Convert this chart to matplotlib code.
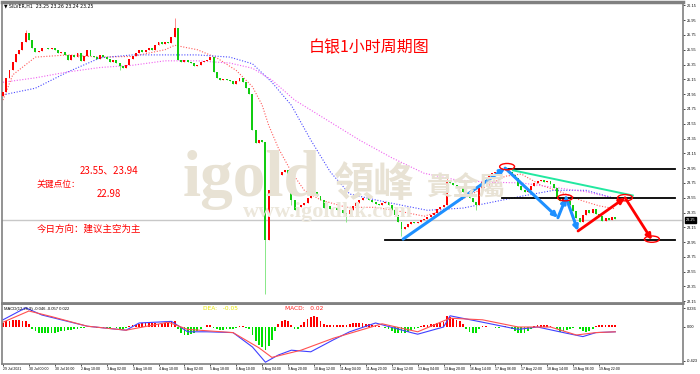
import numpy as np
import matplotlib.pyplot as plt
from matplotlib.patches import Ellipse
from matplotlib.transforms import blended_transform_factory

plt.rcParams['font.family'] = ['DejaVu Sans', 'Noto Sans CJK SC']
CJK = ['Noto Sans CJK SC', 'DejaVu Sans']

# SILVER H1 in 2-hour steps (29 Jul - 19 Aug 2021)
first_open = 24.93
closes = [
    24.98, 25.17, 25.27, 25.38, 25.49, 25.55, 25.65, 25.77, 25.68, 25.57,
    25.52, 25.53, 25.57, 25.58, 25.56, 25.57, 25.55, 25.50, 25.52, 25.48,
    25.41, 25.48, 25.45, 25.50, 25.40, 25.46, 25.55, 25.46, 25.45, 25.42,
    25.48, 25.45, 25.42, 25.38, 25.41, 25.37, 25.33, 25.30, 25.35, 25.42,
    25.46, 25.50, 25.55, 25.52, 25.55, 25.57, 25.55, 25.61, 25.65, 25.63,
    25.65, 25.64, 25.72, 25.84, 25.41, 25.38, 25.41, 25.38, 25.37, 25.33,
    25.35, 25.38, 25.40, 25.41, 25.45, 25.25, 25.17, 25.14, 25.15, 25.14,
    25.13, 25.09, 25.13, 25.17, 25.11, 25.03, 24.95, 24.46, 24.29, 24.33,
    24.30, 22.98, 23.65, 23.86, 23.90, 23.86, 23.90, 23.92, 23.79, 23.52,
    23.38, 23.42, 23.45, 23.48, 23.54, 23.60, 23.63, 23.57, 23.52, 23.41,
    23.44, 23.40, 23.41, 23.38, 23.38, 23.35, 23.33, 23.38, 23.44, 23.48,
    23.52, 23.54, 23.54, 23.52, 23.49, 23.46, 23.45, 23.48, 23.49, 23.45,
    23.38, 23.32, 23.22, 23.13, 23.15, 23.19, 23.22, 23.21, 23.22, 23.25,
    23.26, 23.29, 23.32, 23.35, 23.40, 23.42, 23.45, 23.79, 23.75, 23.72,
    23.71, 23.68, 23.63, 23.59, 23.54, 23.49, 23.45, 23.68, 23.76, 23.79,
    23.84, 23.88, 23.90, 23.91, 23.92, 23.92, 23.90, 23.86, 23.81, 23.71,
    23.65, 23.63, 23.65, 23.71, 23.75, 23.77, 23.79, 23.76, 23.77, 23.73,
    23.68, 23.54, 23.50, 23.54, 23.50, 23.45, 23.37, 23.27, 23.22, 23.32,
    23.38, 23.35, 23.40, 23.33, 23.30, 23.23, 23.27, 23.25, 23.29, 23.26,
]
wick_hi_idx = [7, 53, 84, 137, 155]
wick_hi = [25.82, 25.98, 23.95, 23.83, 23.97]
wick_lo_idx = [36, 81, 89, 106, 123, 146]
wick_lo = [25.27, 22.25, 23.45, 23.22, 23.03, 23.38]

# moving averages (dotted), read at a few points
fast_k = [0, 3, 10, 20, 30, 40, 50, 53, 60, 66, 72, 77, 80, 82, 85, 89, 93, 98,
          106, 115, 122, 130, 136, 143, 150, 155, 160, 166, 172, 178, 184, 189]
fast_ma = [24.87, 25.21, 25.45, 25.48, 25.45, 25.46, 25.55, 25.61, 25.55, 25.44,
           25.27, 25.05, 24.80, 24.53, 24.22, 23.90, 23.65, 23.52, 23.42, 23.42,
           23.37, 23.30, 23.38, 23.56, 23.72, 23.84, 23.87, 23.72, 23.63, 23.52,
           23.44, 23.40]
mid_k = [0, 10, 20, 30, 40, 60, 70, 77, 83, 89, 95, 101, 107, 115, 124, 131,
         142, 151, 160, 170, 180, 189]
mid_ma = [24.94, 25.03, 25.25, 25.44, 25.48, 25.48, 25.45, 25.36, 25.11, 24.80,
          24.33, 23.90, 23.60, 23.52, 23.44, 23.38, 23.41, 23.49, 23.57, 23.65,
          23.65, 23.54]
slow_k = [0, 10, 20, 30, 40, 50, 60, 70, 77, 83, 90, 100, 110, 120, 130, 140,
          150, 160, 170, 180, 189]
slow_ma = [25.11, 25.17, 25.25, 25.31, 25.34, 25.40, 25.40, 25.37, 25.30, 25.14,
           24.87, 24.60, 24.33, 24.09, 23.88, 23.79, 23.76, 23.75, 23.69, 23.63,
           23.54]

# MACD panel
macd_hist = [
    0.05, 0.07, 0.08, 0.09, 0.09, 0.09, 0.08, 0.07, 0.04,
    -0.02, -0.05, -0.07, -0.08, -0.08, -0.08, -0.07, -0.07, -0.06, -0.05,
    -0.05, -0.04, -0.04, -0.03, -0.02,
    -0.01, -0.01, -0.005, 0.005, -0.005, -0.01, -0.01, -0.015, -0.01, -0.01,
    -0.005, -0.01, -0.02, -0.02, -0.01, 0.01,
    0.02, 0.03, 0.04, 0.05, 0.05, 0.05, 0.05, 0.05, 0.04, 0.04, 0.05, 0.05, 0.06, 0.07,
    -0.03, -0.07, -0.10, -0.10, -0.09, -0.07, -0.05,
    -0.02, 0.0, 0.02, 0.03,
    -0.01, -0.03, -0.04, -0.04, -0.03, -0.02, -0.02, -0.01, 0.01, 0.01, -0.01, -0.03,
    -0.10, -0.18, -0.22, -0.25, -0.29, -0.24, -0.16, -0.05,
    0.04, 0.08, 0.09, 0.07, 0.02,
    -0.03, -0.03,
    0.02, 0.06, 0.10, 0.13, 0.14, 0.12, 0.08, 0.04, 0.02, 0.02,
    0.02, 0.02, 0.03, 0.03, 0.03, 0.04, 0.05, 0.05, 0.05, 0.05, 0.04, 0.04,
    0.03, 0.02, 0.01, 0.0,
    -0.01, -0.03, -0.05, -0.07, -0.08, -0.08, -0.07, -0.06, -0.04, -0.03, -0.01,
    0.01, 0.02, 0.03, 0.04, 0.04, 0.05, 0.05, 0.06,
    0.14, 0.13, 0.11, 0.09, 0.07, 0.04,
    -0.02, -0.06, -0.08, -0.07, -0.03,
    0.01, 0.01, 0.0, 0.0, -0.01, -0.01, 0.0, 0.01, 0.0,
    -0.02, -0.05, -0.08, -0.08, -0.07, -0.05, -0.02,
    0.01, 0.02, 0.02, 0.02, 0.02, 0.01, 0.0,
    -0.03, -0.06, -0.05, -0.04, -0.02,
    -0.01, 0.0, -0.02,
    -0.05, -0.06, -0.05, -0.03,
    0.01, 0.03, 0.03, 0.02, 0.02, 0.02, 0.02,
]
macd_k = [0, 7, 12, 26, 38, 42, 52, 57, 63, 71, 77, 81, 85, 89, 95, 102, 107,
          115, 126, 128, 136, 138, 148, 159, 165, 173, 179, 183, 189]
macd_line = [0.09, 0.24, 0.15, 0.01, -0.04, 0.05, 0.07, -0.06, -0.06, -0.07,
             -0.25, -0.44, -0.35, -0.29, -0.31, -0.16, -0.06, 0.05, -0.07, -0.09,
             0.0, 0.14, 0.06, -0.03, 0.0, -0.07, -0.12, -0.07, -0.06]
sig_k = [0, 8, 15, 26, 38, 51, 57, 71, 79, 83, 92, 102, 107, 117, 128, 138,
         148, 159, 169, 177, 183, 189]
sig_line = [0.06, 0.20, 0.13, 0.01, -0.04, 0.06, -0.03, -0.07, -0.26, -0.38,
            -0.29, -0.14, -0.08, 0.04, -0.06, 0.11, 0.09, 0.0, 0.0, -0.10,
            -0.07, -0.06]

price_ticks = [26.15, 25.95, 25.75, 25.55, 25.35, 25.15, 24.95, 24.75, 24.55,
               24.35, 24.15, 23.95, 23.75, 23.55, 23.35, 23.15, 22.95, 22.75,
               22.55, 22.35, 22.15]
macd_ticks = [0.236, 0.0, -0.423]
macd_tick_labels = ['0.236', '0.00', '-0.423']
time_labels = ['29 Jul 2021', '30 Jul 00:00', '30 Jul 16:00', '2 Aug 10:00',
               '3 Aug 02:00', '3 Aug 18:00', '4 Aug 10:00', '5 Aug 02:00',
               '5 Aug 18:00', '6 Aug 10:00', '9 Aug 04:00', '9 Aug 20:00',
               '10 Aug 12:00', '11 Aug 04:00', '11 Aug 20:00', '12 Aug 12:00',
               '13 Aug 04:00', '13 Aug 20:00', '16 Aug 14:00', '17 Aug 06:00',
               '17 Aug 22:00', '18 Aug 14:00', '19 Aug 06:00', '19 Aug 22:00']
last_price = 23.25

key_levels = [23.94, 23.55, 22.98]
blue_k = [123.5, 155, 171.3, 173.8, 177.5]
blue_p = [22.99, 23.95, 23.28, 23.55, 23.10]
red_k = [177.5, 192, 200.3]
red_p = [23.10, 23.55, 22.98]
green_k = [157.4, 194.4]
green_p = [23.92, 23.58]
circle_k = [155.6, 173.5, 192, 200.3]
circle_p = [23.97, 23.55, 23.55, 22.99]

W, H = 700, 374
fig = plt.figure(figsize=(7.0, 3.74), dpi=100)


def px(x, y):
    return x / W, 1 - y / H


ax = fig.add_axes([2 / W, 1 - 303 / H, 681 / W, 301 / H])
ax2 = fig.add_axes([2 / W, 1 - 364 / H, 681 / W, 60 / H])
for a in (ax, ax2):
    a.set_xlim(-0.31, 209.9)
    for s in a.spines.values():
        s.set_color('#808080')
        s.set_linewidth(1.2)
ax.spines['top'].set_linewidth(2.5)
ax.spines['bottom'].set_linewidth(2)

# watermark
wm = '#e8e2d4'
fig.text(*px(183, 196), 'igold', family='Liberation Serif', weight='bold',
         fontsize=47, color=wm, va='baseline', zorder=0)
fig.text(*px(333, 196), '領峰', family=['Noto Sans CJK TC'], weight='bold',
         fontsize=29, color=wm, va='baseline', zorder=0)
fig.text(*px(427, 196), '貴金屬', family=['Noto Sans CJK TC'], weight='bold',
         fontsize=19, color=wm, va='baseline', zorder=0)
fig.text(*px(243, 217), 'www.igoldhk.com', family='Liberation Serif', weight='bold',
         fontsize=16, color='#ece7db', va='baseline', zorder=0)
ax.patch.set_alpha(0)
ax2.patch.set_alpha(0)

# candles
k = np.arange(len(closes))
c = np.array(closes)
o = np.r_[first_open, c[:-1]]
hi = np.maximum(o, c)
lo = np.minimum(o, c)
hi[wick_hi_idx] = wick_hi
lo[wick_lo_idx] = wick_lo
up = c >= o
ax.vlines(k[up], lo[up], hi[up], color='#ff8c8c', lw=0.7, zorder=3)
ax.vlines(k[~up], lo[~up], hi[~up], color='#88e888', lw=0.7, zorder=3)
body = np.maximum(np.abs(c - o), 0.01)
ax.bar(k[up], body[up], bottom=o[up], width=0.6, color='#ff0000', lw=0, zorder=4)
ax.bar(k[~up], body[~up], bottom=c[~up], width=0.6, color='#11cc11', lw=0, zorder=4)

ax.plot(fast_k, fast_ma, ls=(0, (1, 1.5)), color='#ff5a5a', lw=0.8, zorder=2)
ax.plot(mid_k, mid_ma, ls=(0, (1, 1.5)), color='#4a4aff', lw=0.8, zorder=2)
ax.plot(slow_k, slow_ma, ls=(0, (1, 1.5)), color='#f060f0', lw=0.8, zorder=2)

ax.axhline(last_price, color='#c8c8c8', lw=1, zorder=1)

# analysis drawings
for lvl, x0 in zip(key_levels, [155, 154, 118]):
    ax.plot([x0, 207.4], [lvl, lvl], color='black', lw=1.3, zorder=5)
ax.plot(green_k, green_p, color='#22e8a0', lw=1.4, zorder=5)
for i in range(len(blue_k) - 1):
    ax.annotate('', xy=(blue_k[i + 1], blue_p[i + 1]), xytext=(blue_k[i], blue_p[i]),
                arrowprops=dict(arrowstyle='-|>', color='#1e90ff', lw=2.2,
                                mutation_scale=7, shrinkA=0, shrinkB=0), zorder=6)
for i in range(len(red_k) - 1):
    ax.annotate('', xy=(red_k[i + 1], red_p[i + 1]), xytext=(red_k[i], red_p[i]),
                arrowprops=dict(arrowstyle='-|>', color='#ff0000', lw=2.0,
                                mutation_scale=8, shrinkA=0, shrinkB=0), zorder=6)
for ck, cp in zip(circle_k, circle_p):
    ax.add_patch(Ellipse((ck, cp), 4.6, 0.085, fill=False, ec='red', lw=1, zorder=7))

ax.set_ylim(22.127, 26.195)
ax.set_xticks([])
ax.yaxis.tick_right()
ax.set_yticks(price_ticks)
ax.set_yticklabels([f'{v:.2f}' for v in price_ticks])
ax.tick_params(axis='y', labelsize=2.8, length=1.5, pad=1, width=0.5)
for t in ax.get_yticklabels():
    t.set_family('Liberation Sans')

tr = blended_transform_factory(ax.transAxes, ax.transData)
ax.text(1.004, last_price, f'{last_price:.2f}', transform=tr, fontsize=2.8,
        family='Liberation Sans', color='white', va='center', ha='left',
        bbox=dict(boxstyle='square,pad=0.2', fc='black', ec='black'))

# texts
fig.text(*px(4, 6), '\u25bc SILVER,H1  23.25 23.26 23.24 23.25', fontsize=3.3,
         va='center', color='black')
fig.text(*px(369, 48), '白银1小时周期图', family=CJK, fontsize=11.5, color='#ff0000',
         ha='center', va='center')
fig.text(*px(80, 170), '23.55、23.94', family=CJK, fontsize=7, color='#ff0000', va='center')
fig.text(*px(37, 184), '关键点位：', family=CJK, fontsize=6.3, color='#ff0000', va='center')
fig.text(*px(97, 194), '22.98', family=CJK, fontsize=7, color='#ff0000', va='center')
fig.text(*px(37, 229), '今日方向：建议主空为主', family=CJK, fontsize=6.8,
         color='#ff0000', va='center')

# MACD
hist = np.array(macd_hist)
ax2.bar(k, hist, width=0.55, color=np.where(hist >= 0, '#ff0000', '#00e000'), lw=0)
ax2.plot(macd_k, macd_line, color='#4040ff', lw=0.8)
ax2.plot(sig_k, sig_line, color='#ff5050', lw=0.8)
ax2.set_ylim(-0.4625, 0.2875)
ax2.yaxis.tick_right()
ax2.set_yticks(macd_ticks)
ax2.set_yticklabels(macd_tick_labels)
ax2.tick_params(axis='y', labelsize=2.8, length=1.5, pad=1, width=0.5)
ax2.set_xticks(np.arange(len(time_labels)) * 8)
ax2.set_xticklabels(time_labels, ha='left')
ax2.tick_params(axis='x', labelsize=2.5, length=1.5, pad=1, width=0.5)
for t in ax2.get_yticklabels() + ax2.get_xticklabels():
    t.set_family('Liberation Sans')
fig.text(*px(4, 309), 'MACD(12,26,9) -0.046 -0.057 0.022', fontsize=3.0,
         family='Liberation Sans', va='center')
fig.text(*px(203, 309), 'DEA:   -0.05', fontsize=4.2, color='#e8e800', va='center')
fig.text(*px(285, 309), 'MACD:   0.02', fontsize=4.2, color='#ff2020', va='center')

fig.savefig('out.png', dpi=100, facecolor='white')
